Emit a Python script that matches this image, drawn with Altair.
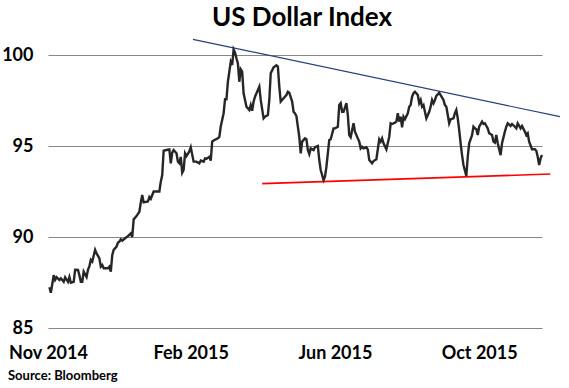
import altair as alt
import pandas as pd

# Trading-day offsets from 3 Nov 2014 and index level
day = [1, 2, 4, 5, 6, 8, 9, 11, 12, 14, 15, 16, 18, 19, 21, 22, 23, 24, 25, 27,
       28, 29, 30, 31, 33, 34, 36, 37, 38, 39, 42, 43, 44, 45, 46, 48, 49, 50, 51, 52,
       54, 56, 58, 59, 60, 62, 64, 65, 66, 67, 70, 71, 72, 74, 78, 79, 80, 81, 83, 85,
       86, 87, 88, 90, 91, 92, 93, 94, 95, 96, 97, 99, 100, 102, 103, 104, 106, 107, 109, 110,
       111, 113, 114, 115, 116, 119, 120, 121, 123, 124, 125, 126, 128, 129, 130, 131, 132, 133, 134, 135,
       136, 137, 138, 139, 141, 142, 143, 144, 145, 147, 148, 149, 151, 152, 154, 155, 156, 158, 160, 161,
       162, 163, 165, 167, 168, 169, 171, 172, 173, 174, 175, 176, 177, 178, 180, 181, 182, 183, 184, 186,
       187, 189, 190, 191, 193, 194, 195, 196, 197, 198, 200, 201, 203, 204, 205, 206, 207, 209, 210, 211,
       212, 214, 215, 217, 218, 219, 220, 221, 223, 224, 225, 227, 228, 230, 232, 233, 234, 235, 237, 239,
       240, 241, 243, 244, 245, 246, 247, 248, 249, 250, 252, 253, 254, 255, 256, 257, 259, 260, 261, 262,
       263, 264, 265, 267, 268, 269, 270, 271, 272, 274, 275, 277, 278, 279, 281, 282, 284, 285, 286, 287,
       288, 289, 290, 291, 293, 294, 295, 297, 298, 299, 300, 301, 302, 304, 305, 306, 308, 309, 311, 312,
       313, 314, 315, 317, 318, 320, 321, 322, 324, 325, 327, 328, 329, 331, 332, 334, 335, 336, 337, 339,
       341, 342, 343, 344, 345, 346]
value = [87.24, 86.94, 87.90, 87.64, 87.79, 87.64, 87.73, 87.54, 87.79, 87.54, 87.80, 87.49, 87.54, 88.20, 88.19, 87.90, 87.54, 87.54, 88.10, 87.80,
         88.20, 88.40, 88.74, 88.65, 89.29, 89.10, 88.83, 88.37, 88.46, 88.28, 88.28, 88.37, 88.10, 89.00, 89.29, 89.47, 89.69, 89.74, 89.87, 89.80,
         89.93, 90.05, 90.20, 90.00, 90.97, 91.15, 91.39, 91.90, 92.31, 91.90, 91.95, 92.20, 92.10, 92.50, 92.50, 93.04, 93.40, 94.74, 94.78, 94.81,
         94.05, 94.63, 94.78, 94.60, 94.14, 94.05, 94.40, 93.53, 93.68, 94.60, 94.45, 94.70, 94.93, 94.14, 94.14, 94.14, 94.05, 94.20, 94.14, 94.32,
         94.30, 94.40, 94.20, 95.24, 95.30, 95.42, 95.50, 96.07, 96.80, 97.57, 97.57, 98.53, 99.63, 99.45, 100.30, 100.13, 99.82, 99.54, 98.53, 99.21,
         99.08, 97.90, 97.53, 97.16, 96.98, 97.25, 96.94, 97.44, 97.71, 98.08, 98.26, 97.53, 96.52, 96.61, 96.70, 97.53, 99.00, 99.32, 99.43, 99.36,
         98.26, 97.44, 97.62, 97.80, 97.98, 97.93, 97.44, 96.88, 96.79, 96.64, 96.06, 95.51, 94.60, 95.24, 95.42, 95.37, 94.78, 94.56, 94.87, 94.78,
         94.93, 95.00, 94.23, 93.68, 93.13, 93.32, 93.86, 94.60, 95.33, 95.37, 95.97, 95.97, 96.06, 97.25, 97.35, 96.88, 96.88, 97.35, 96.70, 95.60,
         95.48, 96.25, 95.79, 95.42, 95.24, 94.87, 94.96, 94.87, 94.93, 94.80, 94.23, 94.05, 94.17, 94.27, 95.37, 95.24, 95.42, 95.15, 94.82, 95.51,
         96.25, 96.21, 96.28, 96.34, 96.80, 96.34, 96.61, 96.03, 96.61, 96.47, 96.80, 97.16, 97.25, 97.71, 97.90, 97.98, 97.80, 97.35, 97.53, 97.16,
         97.25, 96.88, 96.52, 96.88, 97.16, 97.53, 97.35, 97.53, 97.75, 97.93, 97.80, 97.53, 97.25, 97.16, 96.25, 96.47, 96.52, 96.80, 96.98, 96.52,
         95.88, 95.15, 94.50, 93.96, 93.35, 94.41, 95.15, 95.60, 96.06, 95.97, 95.92, 95.60, 96.06, 96.34, 96.21, 96.25, 95.97, 95.70, 95.60, 95.24,
         95.18, 95.60, 95.15, 94.50, 95.15, 95.79, 96.06, 96.25, 96.10, 96.21, 96.06, 95.97, 96.25, 95.97, 96.10, 95.79, 95.60, 95.70, 95.24, 94.82,
         94.82, 94.74, 94.41, 93.96, 94.32, 94.50]

tick_days = [0, 100, 201, 302]
tick_labels = ["Nov 2014", "Feb 2015", "Jun 2015", "Oct 2015"]
y_ticks = [85, 90, 95, 100]

upper_day = [101.5, 358.6]
upper_val = [100.86, 96.61]
lower_day = [150.0, 351.8]
lower_val = [92.93, 93.46]

title_text = "US Dollar Index"
source_text = "Source: Bloomberg"

FONT = "Lato"

df = pd.DataFrame({"day": day, "value": value})
df_up = pd.DataFrame({"day": upper_day, "value": upper_val})
df_lo = pd.DataFrame({"day": lower_day, "value": lower_val})
df_src = pd.DataFrame({"t": [source_text]})
df_title = pd.DataFrame({"t": [title_text]})

label_expr = " : ".join(
    f"datum.value == {d} ? '{t}'" for d, t in zip(tick_days, tick_labels)
) + " : ''"

xs = alt.Scale(domain=[0, 346], nice=False, zero=False)
ys = alt.Scale(domain=[85, 100], nice=False, zero=False)

x_enc = alt.X("day:Q", scale=xs, axis=alt.Axis(
    values=tick_days, labelExpr=label_expr, grid=False, domain=False, ticks=False,
    labelPadding=16, labelFontSize=18, labelFont=FONT, labelFontWeight="bold",
    labelColor="black", labelFlush=False, labelOverlap=False, title=None))
y_enc = alt.Y("value:Q", scale=ys, axis=alt.Axis(
    values=y_ticks, grid=True, gridColor="#868686", gridWidth=1, domain=False,
    ticks=False, labelPadding=15, labelFontSize=18, labelFont=FONT,
    labelFontWeight="bold", labelColor="black", title=None))

upper = alt.Chart(df_up).mark_line(color="#24407e", strokeWidth=1.2).encode(x=x_enc, y=y_enc)
lower = alt.Chart(df_lo).mark_line(color="#ff0000", strokeWidth=1.6).encode(x=x_enc, y=y_enc)
main = alt.Chart(df).mark_line(color="#262626", strokeWidth=2.4).encode(x=x_enc, y=y_enc)
src = alt.Chart(df_src).mark_text(
    align="left", baseline="alphabetic", font=FONT, fontSize=13, fontWeight="bold",
    color="black").encode(x=alt.value(-40), y=alt.value(325), text="t:N")
ttl = alt.Chart(df_title).mark_text(
    align="center", baseline="alphabetic", font=FONT, fontSize=26, fontWeight="bold",
    color="black").encode(x=alt.value(254), y=alt.value(-29), text="t:N")

chart = alt.layer(upper, lower, main, src, ttl).properties(
    width=494, height=273,
    autosize=alt.AutoSizeParams(type="none"),
    padding={"left": 48, "top": 55, "right": 27, "bottom": 60},
).configure_view(stroke=None)

chart.save("out.html", embed_options={"renderer": "svg", "actions": False})
